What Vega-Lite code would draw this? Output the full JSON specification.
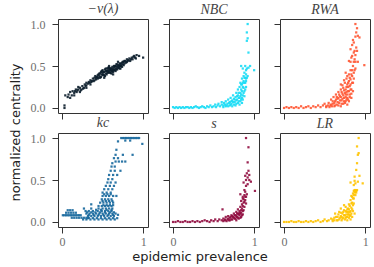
{
"$schema": "https://vega.github.io/schema/vega-lite/v6.json",
"padding": {"left": 9, "top": 1, "right": 3, "bottom": 3},
"datasets": {
"v": [{"x":0.03,"y":0.0},{"x":0.03,"y":0.03},{"x":0.04,"y":0.15},{"x":0.07,"y":0.13},{"x":0.08,"y":0.16},{"x":0.1,"y":0.12},{"x":0.12,"y":0.15},{"x":0.1,"y":0.19},{"x":0.13,"y":0.2},{"x":0.15,"y":0.18},{"x":0.17,"y":0.22},{"x":0.18,"y":0.19},{"x":0.2,"y":0.22},{"x":0.2,"y":0.25},{"x":0.22,"y":0.24},{"x":0.23,"y":0.21},{"x":0.25,"y":0.26},{"x":0.27,"y":0.24},{"x":0.28,"y":0.28},{"x":0.3,"y":0.27},{"x":0.3,"y":0.3},{"x":0.32,"y":0.29},{"x":0.33,"y":0.31},{"x":0.35,"y":0.28},{"x":0.35,"y":0.33},{"x":0.37,"y":0.32},{"x":0.38,"y":0.35},{"x":0.4,"y":0.33},{"x":0.4,"y":0.36},{"x":0.41,"y":0.38},{"x":0.42,"y":0.34},{"x":0.43,"y":0.37},{"x":0.44,"y":0.39},{"x":0.45,"y":0.36},{"x":0.45,"y":0.4},{"x":0.46,"y":0.38},{"x":0.47,"y":0.41},{"x":0.48,"y":0.37},{"x":0.48,"y":0.43},{"x":0.5,"y":0.39},{"x":0.5,"y":0.42},{"x":0.5,"y":0.45},{"x":0.51,"y":0.4},{"x":0.52,"y":0.43},{"x":0.53,"y":0.38},{"x":0.53,"y":0.46},{"x":0.54,"y":0.41},{"x":0.55,"y":0.44},{"x":0.55,"y":0.4},{"x":0.56,"y":0.47},{"x":0.57,"y":0.42},{"x":0.57,"y":0.45},{"x":0.58,"y":0.43},{"x":0.58,"y":0.48},{"x":0.59,"y":0.45},{"x":0.6,"y":0.42},{"x":0.6,"y":0.47},{"x":0.61,"y":0.44},{"x":0.62,"y":0.49},{"x":0.62,"y":0.46},{"x":0.63,"y":0.43},{"x":0.64,"y":0.48},{"x":0.65,"y":0.45},{"x":0.65,"y":0.5},{"x":0.66,"y":0.47},{"x":0.67,"y":0.49},{"x":0.68,"y":0.46},{"x":0.68,"y":0.52},{"x":0.7,"y":0.48},{"x":0.7,"y":0.51},{"x":0.71,"y":0.5},{"x":0.72,"y":0.53},{"x":0.73,"y":0.5},{"x":0.74,"y":0.54},{"x":0.75,"y":0.52},{"x":0.76,"y":0.55},{"x":0.77,"y":0.53},{"x":0.78,"y":0.56},{"x":0.8,"y":0.55},{"x":0.8,"y":0.58},{"x":0.82,"y":0.57},{"x":0.83,"y":0.59},{"x":0.85,"y":0.58},{"x":0.86,"y":0.6},{"x":0.88,"y":0.61},{"x":0.9,"y":0.6},{"x":0.92,"y":0.63},{"x":0.95,"y":0.62},{"x":1.0,"y":0.6},{"x":0.15,"y":0.15},{"x":0.22,"y":0.19},{"x":0.3,"y":0.24},{"x":0.52,"y":0.36},{"x":0.63,"y":0.4},{"x":0.72,"y":0.47},{"x":0.58,"y":0.5},{"x":0.69,"y":0.55},{"x":0.42,"y":0.36},{"x":0.44,"y":0.35},{"x":0.46,"y":0.41},{"x":0.47,"y":0.36},{"x":0.49,"y":0.4},{"x":0.49,"y":0.44},{"x":0.51,"y":0.43},{"x":0.52,"y":0.39},{"x":0.54,"y":0.44},{"x":0.54,"y":0.47},{"x":0.56,"y":0.42},{"x":0.56,"y":0.44},{"x":0.57,"y":0.48},{"x":0.59,"y":0.42},{"x":0.59,"y":0.47},{"x":0.6,"y":0.45},{"x":0.61,"y":0.47},{"x":0.61,"y":0.41},{"x":0.62,"y":0.44},{"x":0.63,"y":0.46},{"x":0.64,"y":0.45},{"x":0.64,"y":0.5},{"x":0.66,"y":0.44},{"x":0.66,"y":0.5},{"x":0.67,"y":0.46},{"x":0.67,"y":0.52},{"x":0.69,"y":0.48},{"x":0.69,"y":0.5},{"x":0.71,"y":0.47},{"x":0.71,"y":0.53},{"x":0.72,"y":0.5},{"x":0.73,"y":0.52},{"x":0.74,"y":0.49},{"x":0.75,"y":0.55},{"x":0.76,"y":0.51},{"x":0.77,"y":0.56},{"x":0.79,"y":0.54},{"x":0.81,"y":0.56},{"x":0.84,"y":0.56},{"x":0.87,"y":0.58},{"x":0.89,"y":0.62},{"x":0.91,"y":0.59},{"x":0.26,"y":0.23},{"x":0.29,"y":0.26},{"x":0.34,"y":0.3},{"x":0.36,"y":0.31},{"x":0.39,"y":0.32},{"x":0.19,"y":0.21},{"x":0.16,"y":0.2},{"x":0.24,"y":0.22}],
"nbc": [{"x":0.0,"y":0.01},{"x":0.02,"y":0.0},{"x":0.04,"y":0.01},{"x":0.06,"y":0.0},{"x":0.08,"y":0.01},{"x":0.1,"y":0.0},{"x":0.12,"y":0.01},{"x":0.14,"y":0.0},{"x":0.16,"y":0.01},{"x":0.18,"y":0.01},{"x":0.2,"y":0.0},{"x":0.22,"y":0.01},{"x":0.24,"y":0.0},{"x":0.26,"y":0.01},{"x":0.28,"y":0.02},{"x":0.3,"y":0.01},{"x":0.32,"y":0.0},{"x":0.34,"y":0.01},{"x":0.36,"y":0.02},{"x":0.38,"y":0.01},{"x":0.4,"y":0.0},{"x":0.42,"y":0.02},{"x":0.44,"y":0.01},{"x":0.46,"y":0.03},{"x":0.48,"y":0.01},{"x":0.5,"y":0.02},{"x":0.52,"y":0.04},{"x":0.53,"y":0.01},{"x":0.55,"y":0.03},{"x":0.56,"y":0.05},{"x":0.58,"y":0.02},{"x":0.6,"y":0.04},{"x":0.6,"y":0.07},{"x":0.62,"y":0.03},{"x":0.63,"y":0.06},{"x":0.65,"y":0.02},{"x":0.65,"y":0.08},{"x":0.67,"y":0.05},{"x":0.68,"y":0.1},{"x":0.7,"y":0.03},{"x":0.7,"y":0.07},{"x":0.71,"y":0.12},{"x":0.72,"y":0.05},{"x":0.73,"y":0.09},{"x":0.74,"y":0.15},{"x":0.75,"y":0.04},{"x":0.75,"y":0.11},{"x":0.76,"y":0.07},{"x":0.77,"y":0.13},{"x":0.78,"y":0.18},{"x":0.78,"y":0.05},{"x":0.79,"y":0.1},{"x":0.8,"y":0.15},{"x":0.8,"y":0.22},{"x":0.81,"y":0.08},{"x":0.82,"y":0.12},{"x":0.82,"y":0.25},{"x":0.83,"y":0.18},{"x":0.83,"y":0.3},{"x":0.84,"y":0.1},{"x":0.84,"y":0.22},{"x":0.85,"y":0.28},{"x":0.85,"y":0.35},{"x":0.86,"y":0.15},{"x":0.86,"y":0.25},{"x":0.87,"y":0.32},{"x":0.87,"y":0.38},{"x":0.88,"y":0.2},{"x":0.88,"y":0.3},{"x":0.89,"y":0.36},{"x":0.9,"y":0.25},{"x":0.9,"y":0.35},{"x":0.9,"y":0.45},{"x":0.92,"y":0.38},{"x":0.86,"y":0.47},{"x":0.93,"y":0.48},{"x":0.95,"y":0.5},{"x":1.0,"y":0.45},{"x":0.93,"y":0.66},{"x":0.91,"y":0.8},{"x":0.92,"y":0.83},{"x":0.91,"y":0.9},{"x":0.92,"y":1.0},{"x":0.62,"y":0.01},{"x":0.64,"y":0.04},{"x":0.66,"y":0.03},{"x":0.68,"y":0.02},{"x":0.69,"y":0.06},{"x":0.71,"y":0.04},{"x":0.72,"y":0.08},{"x":0.73,"y":0.02},{"x":0.74,"y":0.07},{"x":0.76,"y":0.1},{"x":0.77,"y":0.03},{"x":0.78,"y":0.09},{"x":0.79,"y":0.14},{"x":0.8,"y":0.06},{"x":0.81,"y":0.12},{"x":0.81,"y":0.18},{"x":0.82,"y":0.04},{"x":0.83,"y":0.08},{"x":0.83,"y":0.14},{"x":0.84,"y":0.16},{"x":0.84,"y":0.28},{"x":0.85,"y":0.06},{"x":0.85,"y":0.12},{"x":0.85,"y":0.2},{"x":0.86,"y":0.1},{"x":0.86,"y":0.3},{"x":0.87,"y":0.18},{"x":0.87,"y":0.24},{"x":0.88,"y":0.14},{"x":0.88,"y":0.36},{"x":0.89,"y":0.22},{"x":0.89,"y":0.3},{"x":0.9,"y":0.32},{"x":0.91,"y":0.36},{"x":0.9,"y":0.4},{"x":0.88,"y":0.42},{"x":0.91,"y":0.47},{"x":0.89,"y":0.5},{"x":0.84,"y":0.5}],
"rwa": [{"x":0.0,"y":0.0},{"x":0.03,"y":0.01},{"x":0.06,"y":0.0},{"x":0.09,"y":0.01},{"x":0.12,"y":0.0},{"x":0.15,"y":0.01},{"x":0.18,"y":0.0},{"x":0.21,"y":0.02},{"x":0.24,"y":0.0},{"x":0.27,"y":0.01},{"x":0.3,"y":0.02},{"x":0.33,"y":0.0},{"x":0.36,"y":0.02},{"x":0.39,"y":0.01},{"x":0.42,"y":0.03},{"x":0.45,"y":0.01},{"x":0.48,"y":0.03},{"x":0.5,"y":0.05},{"x":0.52,"y":0.02},{"x":0.55,"y":0.06},{"x":0.57,"y":0.03},{"x":0.58,"y":0.1},{"x":0.6,"y":0.05},{"x":0.61,"y":0.13},{"x":0.62,"y":0.02},{"x":0.63,"y":0.08},{"x":0.64,"y":0.16},{"x":0.65,"y":0.04},{"x":0.66,"y":0.11},{"x":0.67,"y":0.19},{"x":0.68,"y":0.06},{"x":0.69,"y":0.14},{"x":0.7,"y":0.22},{"x":0.7,"y":0.02},{"x":0.71,"y":0.09},{"x":0.72,"y":0.17},{"x":0.72,"y":0.27},{"x":0.73,"y":0.05},{"x":0.74,"y":0.12},{"x":0.74,"y":0.21},{"x":0.75,"y":0.3},{"x":0.76,"y":0.08},{"x":0.76,"y":0.16},{"x":0.77,"y":0.25},{"x":0.77,"y":0.35},{"x":0.78,"y":0.04},{"x":0.78,"y":0.12},{"x":0.79,"y":0.2},{"x":0.79,"y":0.3},{"x":0.8,"y":0.4},{"x":0.8,"y":0.08},{"x":0.81,"y":0.16},{"x":0.81,"y":0.26},{"x":0.82,"y":0.34},{"x":0.82,"y":0.45},{"x":0.83,"y":0.12},{"x":0.83,"y":0.22},{"x":0.84,"y":0.3},{"x":0.84,"y":0.38},{"x":0.85,"y":0.2},{"x":0.85,"y":0.5},{"x":0.86,"y":0.42},{"x":0.8,"y":0.56},{"x":0.83,"y":0.6},{"x":0.82,"y":0.55},{"x":0.87,"y":0.58},{"x":0.82,"y":0.7},{"x":0.84,"y":0.75},{"x":0.87,"y":0.68},{"x":0.89,"y":0.72},{"x":0.88,"y":0.63},{"x":0.85,"y":0.81},{"x":0.89,"y":0.9},{"x":0.91,"y":0.86},{"x":0.93,"y":0.84},{"x":0.88,"y":1.0},{"x":0.99,"y":0.51},{"x":0.91,"y":0.55},{"x":0.76,"y":0.42},{"x":0.88,"y":0.47},{"x":0.52,"y":0.01},{"x":0.54,"y":0.03},{"x":0.56,"y":0.01},{"x":0.58,"y":0.04},{"x":0.59,"y":0.02},{"x":0.6,"y":0.08},{"x":0.62,"y":0.06},{"x":0.63,"y":0.03},{"x":0.64,"y":0.1},{"x":0.65,"y":0.13},{"x":0.66,"y":0.07},{"x":0.67,"y":0.03},{"x":0.67,"y":0.12},{"x":0.68,"y":0.16},{"x":0.69,"y":0.09},{"x":0.7,"y":0.13},{"x":0.71,"y":0.05},{"x":0.71,"y":0.19},{"x":0.72,"y":0.11},{"x":0.73,"y":0.15},{"x":0.73,"y":0.24},{"x":0.74,"y":0.08},{"x":0.75,"y":0.18},{"x":0.75,"y":0.06},{"x":0.76,"y":0.22},{"x":0.76,"y":0.13},{"x":0.77,"y":0.1},{"x":0.77,"y":0.19},{"x":0.78,"y":0.16},{"x":0.78,"y":0.28},{"x":0.79,"y":0.25},{"x":0.79,"y":0.1},{"x":0.8,"y":0.2},{"x":0.8,"y":0.32},{"x":0.81,"y":0.13},{"x":0.81,"y":0.36},{"x":0.82,"y":0.22},{"x":0.82,"y":0.28},{"x":0.83,"y":0.4},{"x":0.83,"y":0.17},{"x":0.84,"y":0.45},{"x":0.85,"y":0.3},{"x":0.86,"y":0.35},{"x":0.86,"y":0.55},{"x":0.87,"y":0.45},{"x":0.88,"y":0.55},{"x":0.84,"y":0.62},{"x":0.86,"y":0.66},{"x":0.9,"y":0.68},{"x":0.86,"y":0.78},{"x":0.88,"y":0.85},{"x":0.9,"y":0.95},{"x":0.78,"y":0.38},{"x":0.74,"y":0.33},{"x":0.7,"y":0.28}],
"kc": [{"x":0.01,"y":0.08},{"x":0.03,"y":0.08},{"x":0.05,"y":0.08},{"x":0.07,"y":0.08},{"x":0.09,"y":0.08},{"x":0.11,"y":0.08},{"x":0.13,"y":0.08},{"x":0.15,"y":0.08},{"x":0.17,"y":0.08},{"x":0.19,"y":0.08},{"x":0.21,"y":0.08},{"x":0.23,"y":0.08},{"x":0.05,"y":0.11},{"x":0.08,"y":0.11},{"x":0.11,"y":0.11},{"x":0.14,"y":0.11},{"x":0.17,"y":0.11},{"x":0.07,"y":0.14},{"x":0.1,"y":0.14},{"x":0.13,"y":0.14},{"x":0.12,"y":0.05},{"x":0.15,"y":0.05},{"x":0.18,"y":0.05},{"x":0.21,"y":0.05},{"x":0.24,"y":0.05},{"x":0.27,"y":0.05},{"x":0.3,"y":0.05},{"x":0.33,"y":0.05},{"x":0.26,"y":0.03},{"x":0.3,"y":0.03},{"x":0.35,"y":0.03},{"x":0.4,"y":0.03},{"x":0.45,"y":0.03},{"x":0.5,"y":0.03},{"x":0.55,"y":0.03},{"x":0.6,"y":0.03},{"x":0.65,"y":0.03},{"x":0.32,"y":0.07},{"x":0.36,"y":0.07},{"x":0.4,"y":0.07},{"x":0.44,"y":0.07},{"x":0.48,"y":0.07},{"x":0.52,"y":0.07},{"x":0.56,"y":0.07},{"x":0.6,"y":0.07},{"x":0.64,"y":0.07},{"x":0.3,"y":0.1},{"x":0.34,"y":0.1},{"x":0.38,"y":0.1},{"x":0.42,"y":0.1},{"x":0.46,"y":0.1},{"x":0.5,"y":0.1},{"x":0.54,"y":0.1},{"x":0.58,"y":0.1},{"x":0.62,"y":0.1},{"x":0.66,"y":0.1},{"x":0.29,"y":0.13},{"x":0.33,"y":0.13},{"x":0.38,"y":0.13},{"x":0.44,"y":0.13},{"x":0.49,"y":0.13},{"x":0.53,"y":0.13},{"x":0.57,"y":0.13},{"x":0.61,"y":0.13},{"x":0.27,"y":0.16},{"x":0.36,"y":0.16},{"x":0.45,"y":0.16},{"x":0.5,"y":0.16},{"x":0.54,"y":0.16},{"x":0.58,"y":0.16},{"x":0.62,"y":0.16},{"x":0.36,"y":0.21},{"x":0.45,"y":0.19},{"x":0.49,"y":0.19},{"x":0.53,"y":0.19},{"x":0.57,"y":0.19},{"x":0.61,"y":0.19},{"x":0.47,"y":0.23},{"x":0.51,"y":0.23},{"x":0.55,"y":0.23},{"x":0.59,"y":0.23},{"x":0.63,"y":0.23},{"x":0.49,"y":0.27},{"x":0.53,"y":0.27},{"x":0.57,"y":0.27},{"x":0.61,"y":0.27},{"x":0.5,"y":0.31},{"x":0.54,"y":0.31},{"x":0.58,"y":0.31},{"x":0.63,"y":0.31},{"x":0.67,"y":0.31},{"x":0.5,"y":0.35},{"x":0.55,"y":0.35},{"x":0.6,"y":0.35},{"x":0.52,"y":0.39},{"x":0.57,"y":0.39},{"x":0.62,"y":0.39},{"x":0.54,"y":0.43},{"x":0.59,"y":0.43},{"x":0.64,"y":0.43},{"x":0.56,"y":0.47},{"x":0.6,"y":0.47},{"x":0.66,"y":0.47},{"x":0.57,"y":0.51},{"x":0.62,"y":0.51},{"x":0.58,"y":0.56},{"x":0.63,"y":0.56},{"x":0.68,"y":0.56},{"x":0.6,"y":0.61},{"x":0.65,"y":0.61},{"x":0.72,"y":0.61},{"x":0.61,"y":0.66},{"x":0.65,"y":0.66},{"x":0.62,"y":0.7},{"x":0.66,"y":0.72},{"x":0.7,"y":0.72},{"x":0.74,"y":0.72},{"x":0.78,"y":0.72},{"x":0.64,"y":0.76},{"x":0.69,"y":0.76},{"x":0.66,"y":0.8},{"x":0.75,"y":0.8},{"x":0.87,"y":0.8},{"x":0.67,"y":0.86},{"x":0.69,"y":0.96},{"x":0.73,"y":1.0},{"x":0.75,"y":1.0},{"x":0.77,"y":1.0},{"x":0.79,"y":1.0},{"x":0.81,"y":1.0},{"x":0.83,"y":1.0},{"x":0.85,"y":1.0},{"x":0.87,"y":1.0},{"x":0.89,"y":1.0},{"x":0.91,"y":1.0},{"x":0.93,"y":1.0},{"x":0.95,"y":1.0},{"x":0.99,"y":0.93},{"x":0.78,"y":0.97},{"x":0.84,"y":0.97},{"x":0.32,"y":0.045},{"x":0.38,"y":0.045},{"x":0.43,"y":0.045},{"x":0.48,"y":0.045},{"x":0.53,"y":0.045},{"x":0.58,"y":0.045},{"x":0.63,"y":0.045},{"x":0.68,"y":0.045},{"x":0.33,"y":0.085},{"x":0.39,"y":0.085},{"x":0.45,"y":0.085},{"x":0.51,"y":0.085},{"x":0.57,"y":0.085},{"x":0.63,"y":0.085},{"x":0.69,"y":0.085},{"x":0.31,"y":0.115},{"x":0.36,"y":0.115},{"x":0.41,"y":0.115},{"x":0.47,"y":0.115},{"x":0.53,"y":0.115},{"x":0.59,"y":0.115},{"x":0.64,"y":0.115},{"x":0.42,"y":0.145},{"x":0.48,"y":0.145},{"x":0.55,"y":0.145},{"x":0.61,"y":0.145},{"x":0.51,"y":0.2},{"x":0.55,"y":0.2},{"x":0.59,"y":0.2},{"x":0.63,"y":0.2},{"x":0.5,"y":0.25},{"x":0.54,"y":0.25},{"x":0.58,"y":0.25},{"x":0.62,"y":0.25},{"x":0.52,"y":0.33},{"x":0.56,"y":0.33},{"x":0.6,"y":0.33}],
"s": [{"x":0.0,"y":0.0},{"x":0.03,"y":0.0},{"x":0.06,"y":0.01},{"x":0.09,"y":0.0},{"x":0.12,"y":0.0},{"x":0.15,"y":0.01},{"x":0.18,"y":0.0},{"x":0.21,"y":0.0},{"x":0.24,"y":0.01},{"x":0.27,"y":0.0},{"x":0.3,"y":0.01},{"x":0.33,"y":0.0},{"x":0.36,"y":0.01},{"x":0.39,"y":0.02},{"x":0.42,"y":0.01},{"x":0.45,"y":0.0},{"x":0.47,"y":0.02},{"x":0.5,"y":0.01},{"x":0.52,"y":0.03},{"x":0.55,"y":0.01},{"x":0.57,"y":0.03},{"x":0.6,"y":0.02},{"x":0.61,"y":0.15},{"x":0.62,"y":0.04},{"x":0.64,"y":0.02},{"x":0.65,"y":0.06},{"x":0.67,"y":0.03},{"x":0.68,"y":0.07},{"x":0.7,"y":0.02},{"x":0.7,"y":0.05},{"x":0.72,"y":0.08},{"x":0.73,"y":0.03},{"x":0.74,"y":0.06},{"x":0.75,"y":0.1},{"x":0.76,"y":0.04},{"x":0.77,"y":0.08},{"x":0.78,"y":0.12},{"x":0.78,"y":0.02},{"x":0.79,"y":0.06},{"x":0.8,"y":0.1},{"x":0.8,"y":0.15},{"x":0.81,"y":0.04},{"x":0.82,"y":0.08},{"x":0.82,"y":0.13},{"x":0.83,"y":0.18},{"x":0.84,"y":0.06},{"x":0.84,"y":0.11},{"x":0.84,"y":0.25},{"x":0.85,"y":0.16},{"x":0.85,"y":0.21},{"x":0.86,"y":0.09},{"x":0.86,"y":0.28},{"x":0.87,"y":0.14},{"x":0.87,"y":0.23},{"x":0.88,"y":0.32},{"x":0.88,"y":0.18},{"x":0.89,"y":0.26},{"x":0.89,"y":0.36},{"x":0.9,"y":0.22},{"x":0.87,"y":0.47},{"x":0.9,"y":0.5},{"x":0.92,"y":0.53},{"x":0.94,"y":0.56},{"x":0.96,"y":0.48},{"x":0.91,"y":0.58},{"x":1.01,"y":0.37},{"x":0.93,"y":0.61},{"x":0.92,"y":0.71},{"x":0.93,"y":0.89},{"x":0.9,"y":1.0},{"x":0.86,"y":0.3},{"x":0.83,"y":0.33},{"x":0.62,"y":0.01},{"x":0.64,"y":0.03},{"x":0.66,"y":0.01},{"x":0.68,"y":0.04},{"x":0.69,"y":0.02},{"x":0.71,"y":0.06},{"x":0.72,"y":0.03},{"x":0.73,"y":0.07},{"x":0.75,"y":0.05},{"x":0.76,"y":0.08},{"x":0.77,"y":0.04},{"x":0.78,"y":0.07},{"x":0.79,"y":0.1},{"x":0.8,"y":0.05},{"x":0.81,"y":0.09},{"x":0.82,"y":0.11},{"x":0.83,"y":0.05},{"x":0.83,"y":0.1},{"x":0.84,"y":0.14},{"x":0.85,"y":0.08},{"x":0.86,"y":0.13},{"x":0.86,"y":0.19},{"x":0.87,"y":0.27},{"x":0.88,"y":0.24},{"x":0.89,"y":0.3},{"x":0.9,"y":0.3},{"x":0.91,"y":0.33},{"x":0.88,"y":0.38},{"x":0.9,"y":0.43},{"x":0.92,"y":0.45},{"x":0.89,"y":0.55},{"x":0.94,"y":0.5}],
"lr": [{"x":0.0,"y":0.0},{"x":0.03,"y":0.0},{"x":0.06,"y":0.0},{"x":0.09,"y":0.01},{"x":0.12,"y":0.0},{"x":0.15,"y":0.0},{"x":0.18,"y":0.01},{"x":0.21,"y":0.0},{"x":0.24,"y":0.0},{"x":0.27,"y":0.01},{"x":0.3,"y":0.0},{"x":0.33,"y":0.01},{"x":0.36,"y":0.0},{"x":0.39,"y":0.01},{"x":0.42,"y":0.02},{"x":0.45,"y":0.0},{"x":0.48,"y":0.01},{"x":0.5,"y":0.03},{"x":0.53,"y":0.01},{"x":0.55,"y":0.02},{"x":0.58,"y":0.04},{"x":0.6,"y":0.01},{"x":0.62,"y":0.05},{"x":0.63,"y":0.1},{"x":0.65,"y":0.02},{"x":0.66,"y":0.06},{"x":0.68,"y":0.03},{"x":0.68,"y":0.12},{"x":0.7,"y":0.07},{"x":0.71,"y":0.02},{"x":0.72,"y":0.1},{"x":0.73,"y":0.05},{"x":0.74,"y":0.14},{"x":0.75,"y":0.03},{"x":0.75,"y":0.08},{"x":0.76,"y":0.18},{"x":0.77,"y":0.06},{"x":0.77,"y":0.12},{"x":0.78,"y":0.02},{"x":0.79,"y":0.09},{"x":0.79,"y":0.16},{"x":0.8,"y":0.05},{"x":0.8,"y":0.21},{"x":0.81,"y":0.12},{"x":0.82,"y":0.03},{"x":0.82,"y":0.08},{"x":0.82,"y":0.26},{"x":0.83,"y":0.17},{"x":0.83,"y":0.31},{"x":0.84,"y":0.06},{"x":0.84,"y":0.23},{"x":0.85,"y":0.13},{"x":0.85,"y":0.34},{"x":0.86,"y":0.28},{"x":0.86,"y":0.37},{"x":0.87,"y":0.1},{"x":0.87,"y":0.38},{"x":0.88,"y":0.32},{"x":0.88,"y":0.36},{"x":0.89,"y":0.35},{"x":0.9,"y":0.38},{"x":0.82,"y":0.47},{"x":0.87,"y":0.49},{"x":0.91,"y":0.48},{"x":0.97,"y":0.46},{"x":0.87,"y":0.54},{"x":0.91,"y":0.8},{"x":0.92,"y":0.82},{"x":0.9,"y":0.9},{"x":0.92,"y":1.0},{"x":0.74,"y":0.2},{"x":0.7,"y":0.16},{"x":0.6,"y":0.03},{"x":0.62,"y":0.02},{"x":0.64,"y":0.06},{"x":0.66,"y":0.02},{"x":0.67,"y":0.09},{"x":0.69,"y":0.05},{"x":0.7,"y":0.11},{"x":0.71,"y":0.06},{"x":0.72,"y":0.04},{"x":0.73,"y":0.12},{"x":0.74,"y":0.08},{"x":0.76,"y":0.05},{"x":0.76,"y":0.13},{"x":0.77,"y":0.09},{"x":0.78,"y":0.15},{"x":0.78,"y":0.06},{"x":0.79,"y":0.12},{"x":0.8,"y":0.09},{"x":0.8,"y":0.15},{"x":0.81,"y":0.07},{"x":0.81,"y":0.19},{"x":0.82,"y":0.13},{"x":0.83,"y":0.1},{"x":0.83,"y":0.22},{"x":0.84,"y":0.15},{"x":0.84,"y":0.3},{"x":0.85,"y":0.2},{"x":0.85,"y":0.28},{"x":0.86,"y":0.32},{"x":0.86,"y":0.22},{"x":0.87,"y":0.35},{"x":0.88,"y":0.38},{"x":0.89,"y":0.37},{"x":0.86,"y":0.44},{"x":0.88,"y":0.46},{"x":0.93,"y":0.55},{"x":0.9,"y":0.7},{"x":0.89,"y":0.62}]
},
"config": {
"view": {"stroke": "#333333", "strokeWidth": 1},
"axis": {"domain": false, "grid": false, "tickColor": "#333333", "tickSize": 6, "labelFont": "Times New Roman, Liberation Serif, serif", "labelFontSize": 12, "labelColor": "#6e6e6e"},
"axisX": {"labelPadding": 3},
"axisY": {"labelPadding": 7},
"title": {"font": "Times New Roman, Liberation Serif, serif", "fontStyle": "italic", "fontSize": 14, "fontWeight": "normal", "color": "#444444", "offset": 2},
"concat": {"spacing": 13}
},
"title": {"text": "normalized centrality", "orient": "left", "anchor": "middle", "font": "DejaVu Sans", "fontStyle": "normal", "fontSize": 13, "color": "#222222", "offset": 7},
"vconcat": [{
"title": {"text": "epidemic prevalence", "orient": "bottom", "anchor": "middle", "font": "DejaVu Sans", "fontStyle": "normal", "fontSize": 13, "color": "#222222", "offset": 3},
"spacing": -5,
"vconcat": [
{"hconcat": [
{"width": 90, "height": 94, "title": "−v(λ)", "data": {"name": "v"}, "mark": {"type": "point", "shape": "square", "filled": true, "size": 5, "opacity": 0.9, "color": "#0b1d2b"},
 "encoding": {"x": {"field": "x", "type": "quantitative", "title": null, "scale": {"domain": [-0.05, 1.06], "nice": false, "zero": false}, "axis": {"values": [0, 1], "labels": false}},
 "y": {"field": "y", "type": "quantitative", "title": null, "scale": {"domain": [-0.06, 1.06], "nice": false, "zero": false}, "axis": {"values": [0, 0.5, 1], "format": ".1f"}}}},
{"width": 90, "height": 94, "title": "NBC", "data": {"name": "nbc"}, "mark": {"type": "point", "shape": "square", "filled": true, "size": 5, "opacity": 0.9, "color": "#18dcf5"},
 "encoding": {"x": {"field": "x", "type": "quantitative", "title": null, "scale": {"domain": [-0.05, 1.06], "nice": false, "zero": false}, "axis": {"values": [0, 1], "labels": false}},
 "y": {"field": "y", "type": "quantitative", "title": null, "scale": {"domain": [-0.06, 1.06], "nice": false, "zero": false}, "axis": {"values": [0, 0.5, 1], "labels": false}}}},
{"width": 90, "height": 94, "title": "RWA", "data": {"name": "rwa"}, "mark": {"type": "point", "shape": "square", "filled": true, "size": 5, "opacity": 0.9, "color": "#ff5733"},
 "encoding": {"x": {"field": "x", "type": "quantitative", "title": null, "scale": {"domain": [-0.05, 1.06], "nice": false, "zero": false}, "axis": {"values": [0, 1], "labels": false}},
 "y": {"field": "y", "type": "quantitative", "title": null, "scale": {"domain": [-0.06, 1.06], "nice": false, "zero": false}, "axis": {"values": [0, 0.5, 1], "labels": false}}}}
]},
{"hconcat": [
{"width": 90, "height": 94, "title": "kc", "data": {"name": "kc"}, "mark": {"type": "point", "shape": "square", "filled": true, "size": 5, "opacity": 0.9, "color": "#15679c"},
 "encoding": {"x": {"field": "x", "type": "quantitative", "title": null, "scale": {"domain": [-0.05, 1.06], "nice": false, "zero": false}, "axis": {"values": [0, 1], "format": "d"}},
 "y": {"field": "y", "type": "quantitative", "title": null, "scale": {"domain": [-0.06, 1.06], "nice": false, "zero": false}, "axis": {"values": [0, 0.5, 1], "format": ".1f"}}}},
{"width": 90, "height": 94, "title": "s", "data": {"name": "s"}, "mark": {"type": "point", "shape": "square", "filled": true, "size": 5, "opacity": 0.9, "color": "#900c3f"},
 "encoding": {"x": {"field": "x", "type": "quantitative", "title": null, "scale": {"domain": [-0.05, 1.06], "nice": false, "zero": false}, "axis": {"values": [0, 1], "format": "d"}},
 "y": {"field": "y", "type": "quantitative", "title": null, "scale": {"domain": [-0.06, 1.06], "nice": false, "zero": false}, "axis": {"values": [0, 0.5, 1], "labels": false}}}},
{"width": 90, "height": 94, "title": "LR", "data": {"name": "lr"}, "mark": {"type": "point", "shape": "square", "filled": true, "size": 5, "opacity": 0.9, "color": "#ffc300"},
 "encoding": {"x": {"field": "x", "type": "quantitative", "title": null, "scale": {"domain": [-0.05, 1.06], "nice": false, "zero": false}, "axis": {"values": [0, 1], "format": "d"}},
 "y": {"field": "y", "type": "quantitative", "title": null, "scale": {"domain": [-0.06, 1.06], "nice": false, "zero": false}, "axis": {"values": [0, 0.5, 1], "labels": false}}}}
]}
]
}]
}
